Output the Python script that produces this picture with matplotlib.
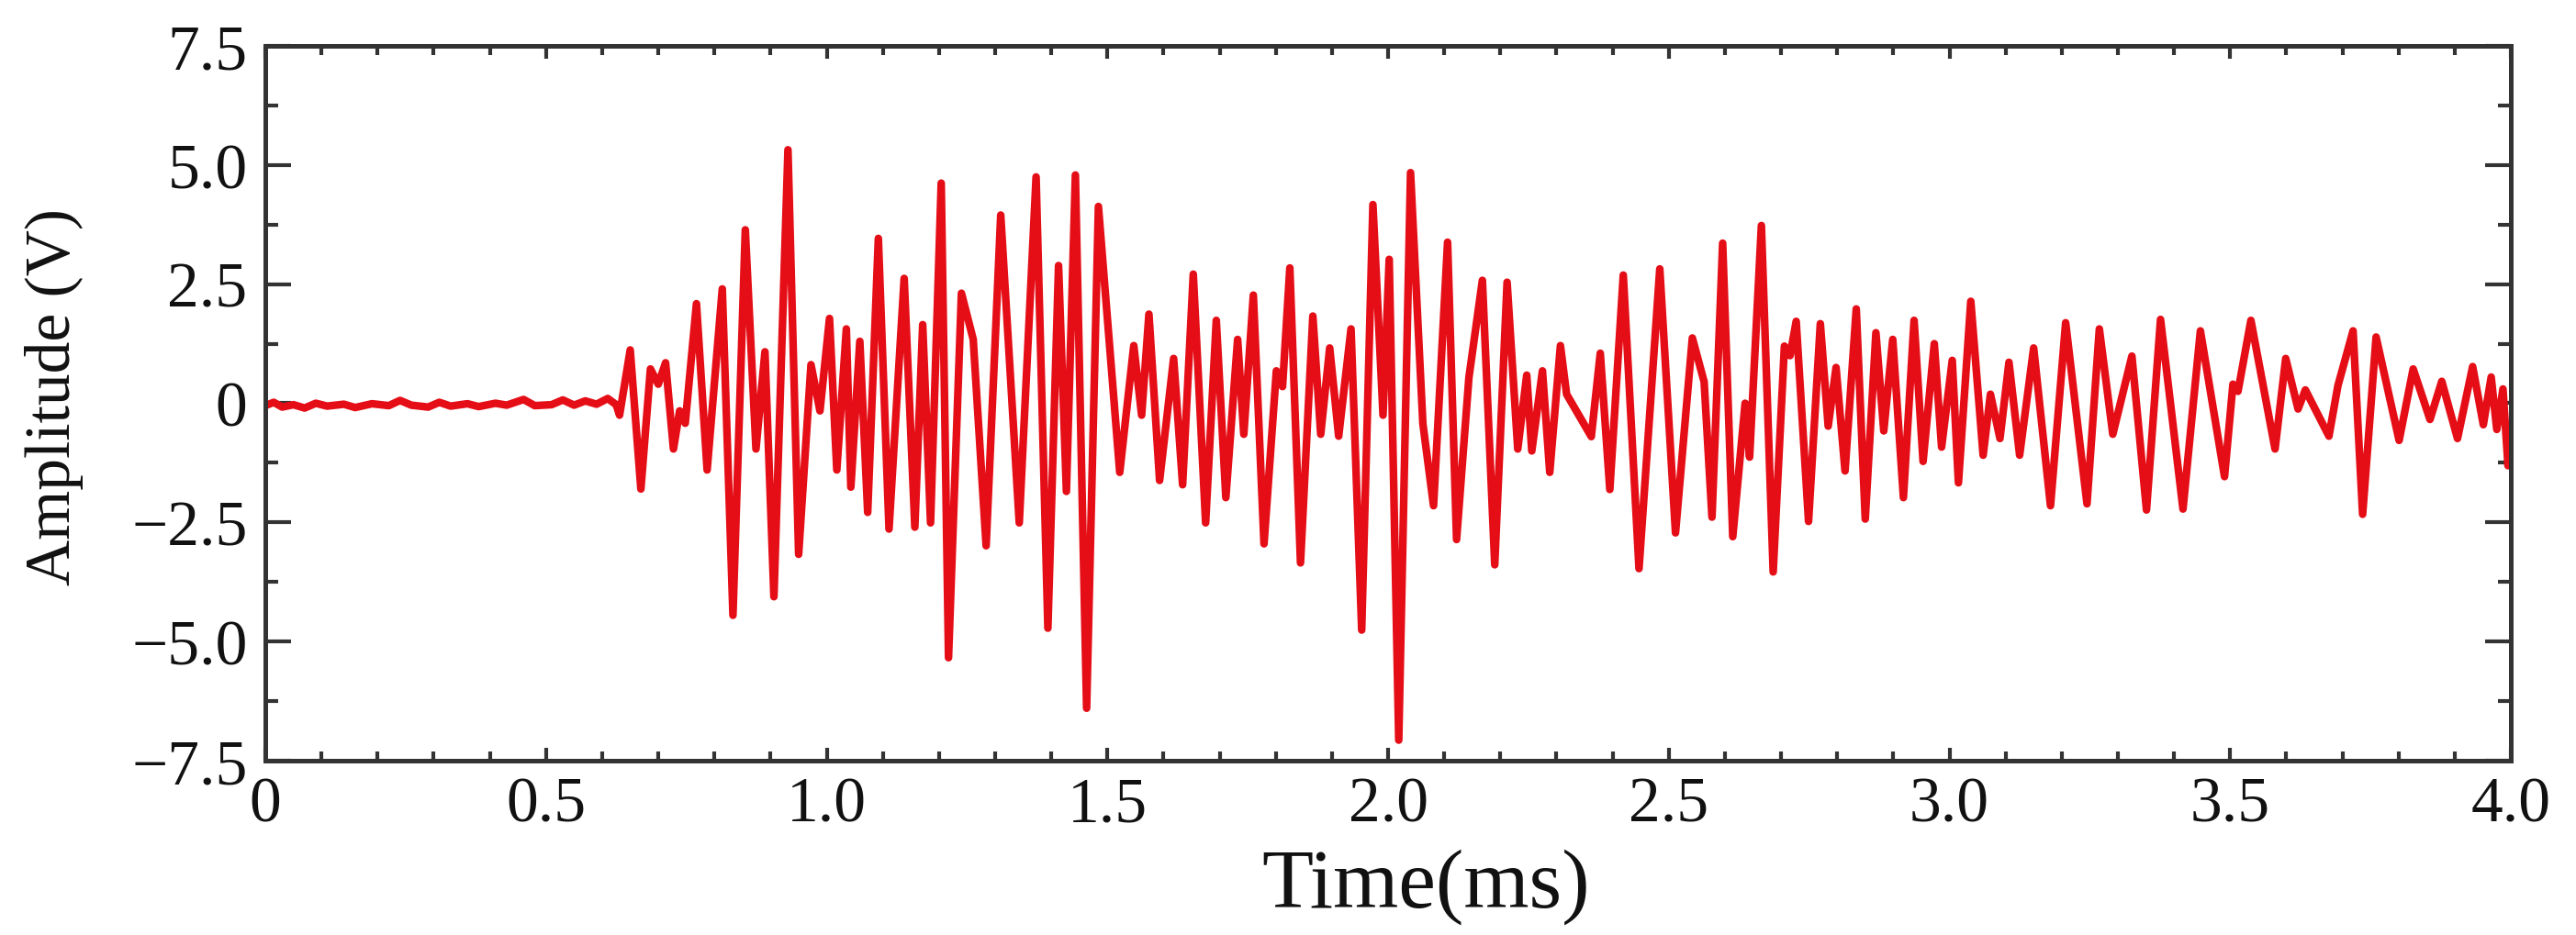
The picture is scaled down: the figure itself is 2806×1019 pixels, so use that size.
import matplotlib
matplotlib.use("Agg")
import matplotlib.pyplot as plt
from matplotlib.ticker import MultipleLocator

# ---- data (time in ms, amplitude in V) ----
time_ms = [
    0.000, 0.015, 0.030, 0.050, 0.070, 0.090, 0.110, 0.140, 0.160, 0.190,
    0.220, 0.240, 0.260, 0.290, 0.310, 0.330, 0.360, 0.380, 0.410, 0.430,
    0.460, 0.480, 0.510, 0.530, 0.550, 0.570, 0.590, 0.610, 0.625,
    0.631, 0.650, 0.669, 0.686, 0.700, 0.713, 0.727, 0.738, 0.748, 0.768,
    0.787, 0.814, 0.833, 0.855, 0.874, 0.890, 0.906, 0.931, 0.950, 0.972,
    0.988, 1.005, 1.018, 1.035, 1.043, 1.059, 1.073, 1.092, 1.111, 1.138,
    1.157, 1.171, 1.185, 1.204, 1.217, 1.240, 1.261, 1.284, 1.310,
    1.343, 1.373, 1.394, 1.413, 1.427, 1.443, 1.463, 1.484, 1.522, 1.547,
    1.561, 1.574, 1.593, 1.618, 1.634, 1.653, 1.675, 1.694, 1.711, 1.732,
    1.743, 1.760, 1.779, 1.801, 1.812, 1.825, 1.844, 1.866, 1.880, 1.896,
    1.912, 1.934, 1.953, 1.973,
    1.991, 2.002, 2.019, 2.040, 2.062, 2.081, 2.106, 2.122, 2.144, 2.168,
    2.190, 2.212, 2.231, 2.247, 2.256, 2.275, 2.288, 2.307, 2.318, 2.362,
    2.378, 2.395, 2.419, 2.447, 2.484, 2.512, 2.542, 2.563, 2.577, 2.596,
    2.614, 2.636, 2.644, 2.665, 2.686,
    2.706, 2.716, 2.727, 2.749, 2.770, 2.784, 2.798, 2.814, 2.834, 2.850,
    2.869, 2.883, 2.899, 2.918, 2.937, 2.953, 2.973, 2.986, 3.005, 3.016,
    3.038, 3.060, 3.073, 3.090, 3.106, 3.125, 3.150, 3.180, 3.207, 3.245,
    3.267, 3.291,
    3.325, 3.351, 3.376, 3.416, 3.447, 3.490, 3.505, 3.514, 3.537, 3.580,
    3.599, 3.621, 3.634, 3.676, 3.692, 3.719, 3.736, 3.760, 3.801, 3.826,
    3.856, 3.877, 3.905, 3.932, 3.951, 3.965, 3.975, 3.986, 3.995, 4.000,
]
amplitude_v = [
    -0.05, 0.02, -0.08, -0.03, -0.10, 0.00, -0.06, -0.02, -0.09, -0.01,
    -0.05, 0.06, -0.04, -0.08, 0.02, -0.06, -0.01, -0.07, 0.00, -0.04,
    0.08, -0.05, -0.03, 0.07, -0.04, 0.05, -0.02, 0.10, -0.03,
    -0.25, 1.12, -1.80, 0.72, 0.40, 0.85, -0.96, -0.16, -0.42, 2.09,
    -1.40, 2.40, -4.45, 3.64, -0.96, 1.08, -4.06, 5.32, -3.17, 0.81,
    -0.16, 1.78, -1.40, 1.56, -1.76, 1.30, -2.29, 3.46, -2.64, 2.62,
    -2.60, 1.65, -2.51, 4.62, -5.34, 2.31, 1.34, -2.99, 3.95,
    -2.51, 4.75, -4.72, 2.89, -1.85, 4.79, -6.40, 4.13, -1.45, 1.21,
    -0.25, 1.87, -1.62, 0.94, -1.71, 2.71, -2.51, 1.74, -1.98, 1.34,
    -0.65, 2.27, -2.95, 0.68, 0.35, 2.84, -3.35, 1.83, -0.65, 1.16,
    -0.69, 1.56, -4.76, 4.17,
    -0.25, 3.02, -7.07, 4.84, -0.43, -2.15, 3.38, -2.86, 0.54, 2.58,
    -3.39, 2.54, -0.96, 0.59, -1.00, 0.68, -1.45, 1.21, 0.19, -0.70,
    1.05, -1.81, 2.69, -3.47, 2.82, -2.72, 1.37, 0.45, -2.39, 3.36,
    -2.80, 0.00, -1.13, 3.73, -3.54,
    1.20, 1.00, 1.72, -2.48, 1.67, -0.48, 0.75, -1.42, 1.98, -2.43,
    1.48, -0.58, 1.34, -1.98, 1.74, -1.22, 1.25, -0.92, 0.90, -1.67,
    2.14, -1.09, 0.19, -0.74, 0.86, -1.09, 1.16, -2.15, 1.69, -2.11,
    1.56, -0.65,
    0.99, -2.24, 1.76, -2.22, 1.52, -1.54, 0.40, 0.25, 1.74, -0.96,
    0.94, -0.12, 0.28, -0.69, 0.37, 1.52, -2.33, 1.39, -0.78, 0.72,
    -0.34, 0.46, -0.74, 0.77, -0.45, 0.55, -0.55, 0.30, -1.31, -0.60,
]

x_ticks = [0.0, 0.5, 1.0, 1.5, 2.0, 2.5, 3.0, 3.5, 4.0]
x_tick_labels = ["0", "0.5", "1.0", "1.5", "2.0", "2.5", "3.0", "3.5", "4.0"]
y_ticks = [7.5, 5.0, 2.5, 0.0, -2.5, -5.0, -7.5]
y_tick_labels = ["7.5", "5.0", "2.5", "0", "\u22122.5", "\u22125.0", "\u22127.5"]

# ---- figure ----
plt.rcParams["font.family"] = ["Liberation Serif", "DejaVu Serif"]
fig = plt.figure(figsize=(28.06, 10.20), dpi=100)
ax = fig.add_axes([0.1030, 0.1863, 0.8717, 0.7637])

ax.plot(time_ms, amplitude_v, color="#e50d16", linewidth=6.0,
        solid_joinstyle="round", solid_capstyle="round")

ax.set_xlim(0, 4.0)
ax.set_ylim(-7.5, 7.5)
ax.set_xticks(x_ticks, x_tick_labels)
ax.set_yticks(y_ticks, y_tick_labels)
ax.xaxis.set_minor_locator(MultipleLocator(0.1))
ax.yaxis.set_minor_locator(MultipleLocator(1.25))

spine_col = "#333333"
for s in ax.spines.values():
    s.set_linewidth(3.6)
    s.set_color(spine_col)

ax.tick_params(axis="both", which="both", direction="in", top=True, right=True,
               color=spine_col, width=3.0, labelsize=50, labelcolor="#111111")
ax.tick_params(axis="x", which="major", length=10, pad=12)
ax.tick_params(axis="x", which="minor", length=7)
ax.tick_params(axis="y", which="major", length=20, pad=14)
ax.tick_params(axis="y", which="minor", length=10)

ax.set_xlabel("Time(ms)", fontsize=66, color="#111111")
ax.set_ylabel("Amplitude (V)", fontsize=50, color="#111111")
ax.xaxis.set_label_coords(0.517, -0.175)
ax.yaxis.set_label_coords(-0.094, 0.51)
ax.xaxis.label.set_verticalalignment("center")
ax.yaxis.label.set_verticalalignment("center")

fig.savefig("out.png", dpi=100, facecolor="white")
